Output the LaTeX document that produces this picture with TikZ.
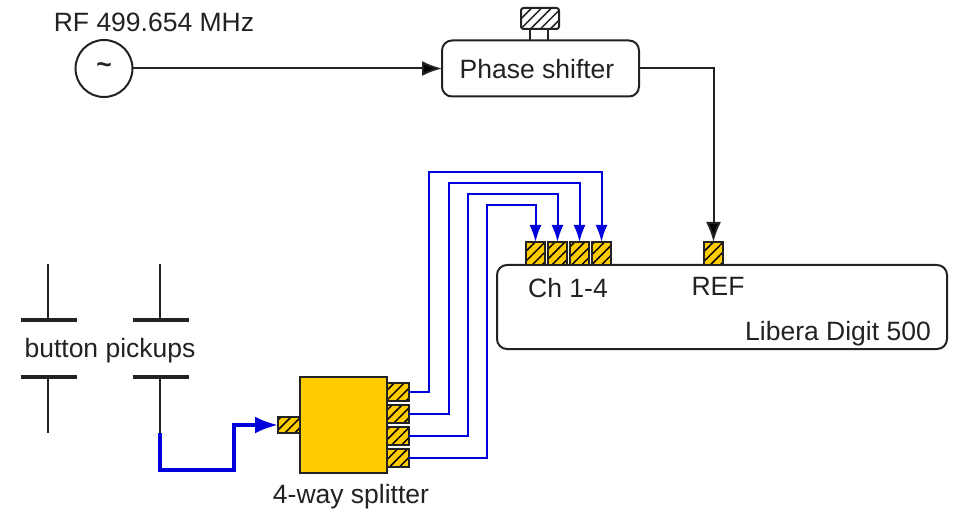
\documentclass[tikz,border=0pt]{standalone}
\usepackage{fontspec}
\setmainfont{Liberation Sans}
\usetikzlibrary{patterns.meta,arrows.meta}
\definecolor{gold}{HTML}{FFCC00}
\definecolor{wire}{HTML}{0000DD}
\definecolor{ink}{HTML}{222222}
\tikzset{
  x=1pt,y=-1pt,
  every node/.style={inner sep=0pt,outer sep=0pt},
  lbl/.style={text=ink,font=\fontsize{26.5}{30}\selectfont},
  boxline/.style={draw=ink,line width=2pt},
  hatchy/.style={pattern={Lines[angle=45,distance=7pt,line width=1.5pt]},pattern color=#1},
  portbox/.style={boxline,preaction={fill=gold},hatchy=black},
  vport/.style={portbox,minimum width=19pt,minimum height=23pt},
  hport/.style={portbox,minimum width=22pt,minimum height=18pt},
  blk/.style={draw=ink,line width=2pt,-{Latex[length=20pt,width=15pt,fill=black]}},
  blu/.style={draw=wire,line width=2pt,-{Latex[length=17pt,width=12pt,fill=wire]}},
  plate/.style={draw=ink,line width=4pt},
  stem/.style={draw=ink,line width=2pt},
}
\begin{document}
\begin{tikzpicture}
\useasboundingbox (0,0) rectangle (955,510);
% source and phase shifter
\node[boxline,circle,minimum size=57pt,lbl] (src) at (104,68.5) {\raisebox{1pt}{\textbf{\textasciitilde}}};
\node[lbl,anchor=center] (rf) at (154,22) {RF 499.654 MHz};
\node[boxline,rounded corners=10pt,minimum width=197pt,minimum height=56pt,lbl] (psh) at (540.5,68.5) {};
\node[lbl] (pshl) at (537,69) {Phase shifter};
\node[boxline,rounded corners=2.5pt,minimum width=38pt,minimum height=21pt,hatchy=ink] (knob) at (540,18.5) {};
\coordinate (ka) at (530,29); \coordinate (kb) at (530,41);
\coordinate (kc) at (548,29); \coordinate (kd) at (548,41);
\draw[stem] (ka) -- (kb);
\draw[stem] (kc) -- (kd);
\draw[blk] (src.east) -- (psh.west);
% Libera
\node[boxline,rounded corners=10pt,minimum width=450pt,minimum height=84pt] (lib) at (722,307) {};
\node[vport] (c1) at (535.5,253.5) {};
\node[vport] (c2) at (557.5,253.5) {};
\node[vport] (c3) at (579.5,253.5) {};
\node[vport] (c4) at (601.5,253.5) {};
\node[vport] (ref) at (713.5,253.5) {};
\node[lbl] (chl) at (568,288) {Ch 1-4};
\node[lbl] (refl) at (718,286) {REF};
\node[lbl] (libl) at (838,334) {Libera Digit 500};
\draw[blk] (psh.east) -| (ref.north);
% splitter
\node[draw=ink,line width=2pt,fill=gold,minimum width=87pt,minimum height=96pt] (spl) at (343.5,425) {};
\node[hport] (s1) at (398,392) {};
\node[hport] (s2) at (398,414) {};
\node[hport] (s3) at (398,436) {};
\node[hport] (s4) at (398,458) {};
\node[portbox,minimum width=22pt,minimum height=16pt] (sin) at (289,425) {};
\node[lbl] (spll) at (351,497) {4-way splitter};
% blue wires
\coordinate (t1) at (429,172);
\coordinate (t2) at (449,183);
\coordinate (t3) at (468,194);
\coordinate (t4) at (487,205);
\draw[blu] (s1.east) -| (t1) -| (c4.north);
\draw[blu] (s2.east) -| (t2) -| (c3.north);
\draw[blu] (s3.east) -| (t3) -| (c2.north);
\draw[blu] (s4.east) -| (t4) -| (c1.north);
% pickups
\coordinate (a1) at (48,264); \coordinate (a2) at (48,320);
\coordinate (a3) at (21,320); \coordinate (a4) at (77,320);
\coordinate (a5) at (21,377); \coordinate (a6) at (77,377);
\coordinate (a7) at (48,377); \coordinate (a8) at (48,433);
\coordinate (b1) at (160,264); \coordinate (b2) at (160,320);
\coordinate (b3) at (133,320); \coordinate (b4) at (189,320);
\coordinate (b5) at (133,377); \coordinate (b6) at (189,377);
\coordinate (b7) at (160,377); \coordinate (b8) at (160,433);
\coordinate (w1) at (160,470); \coordinate (w2) at (234,470);
\coordinate (w3) at (234,425);
\draw[stem] (a1) -- (a2);
\draw[plate] (a3) -- (a4);
\draw[plate] (a5) -- (a6);
\draw[stem] (a7) -- (a8);
\draw[stem] (b1) -- (b2);
\draw[plate] (b3) -- (b4);
\draw[plate] (b5) -- (b6);
\draw[stem] (b7) -- (b8);
\node[lbl] (btn) at (110,351) {button pickups};
\draw[draw=wire,line width=3.5pt,-{Latex[length=23pt,width=17pt,fill=wire]}] (b8) -- (w1) -- (w2) -- (w3) -- (sin.west);
\end{tikzpicture}
\end{document}
